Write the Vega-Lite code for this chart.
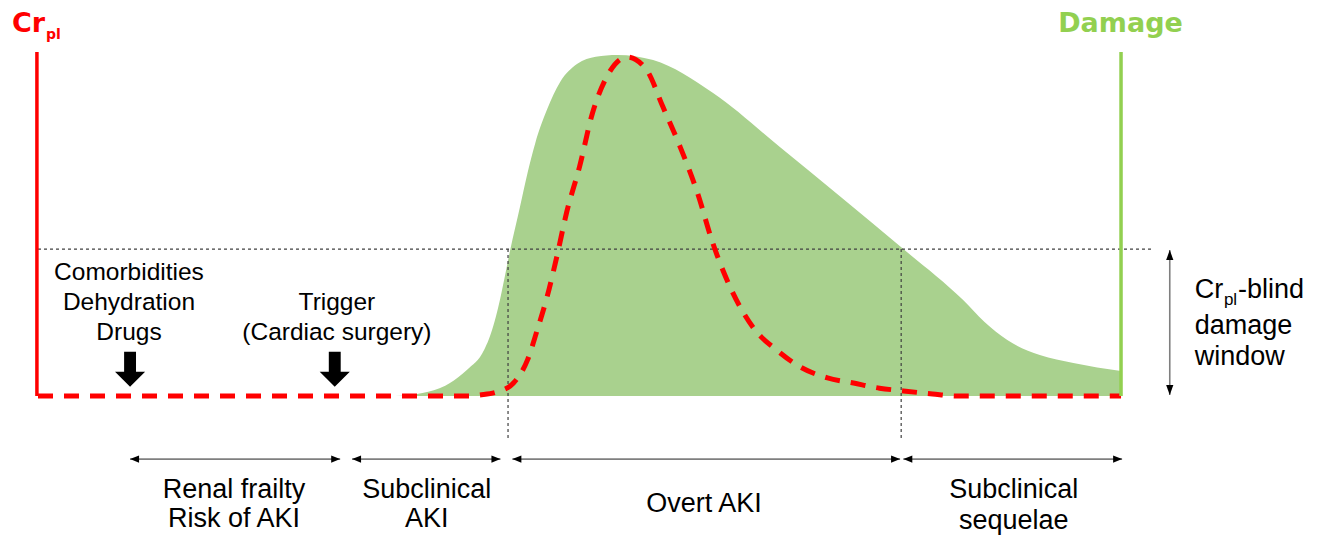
{
  "$schema": "https://vega.github.io/schema/vega-lite/v6.json",
  "width": 1319,
  "height": 535,
  "autosize": "none",
  "padding": 0,
  "background": "#ffffff",
  "config": {"view": {"stroke": null}},
  "datasets": {
    "damage": [
      {"t": 0, "v": 0}, {"t": 33.0, "v": 0}, {"t": 35.5, "v": 0.9}, {"t": 37.6, "v": 3.0},
      {"t": 39.2, "v": 6.5}, {"t": 40.0, "v": 8.8}, {"t": 40.8, "v": 11.4}, {"t": 41.2, "v": 13.6},
      {"t": 41.6, "v": 16.4}, {"t": 42.5, "v": 26.1},
      {"t": 43.1, "v": 35.0}, {"t": 43.6, "v": 42.8}, {"t": 44.5, "v": 55.4}, {"t": 45.2, "v": 65.4},
      {"t": 45.9, "v": 74.0}, {"t": 47.0, "v": 84.0}, {"t": 48.2, "v": 92.0}, {"t": 49.8, "v": 97.4},
      {"t": 51.5, "v": 99.5}, {"t": 53.5, "v": 100}, {"t": 56.8, "v": 98.5},
      {"t": 62.3, "v": 88.9}, {"t": 68.5, "v": 73.0}, {"t": 74.1, "v": 58.4}, {"t": 79.9, "v": 43.1},
      {"t": 85.4, "v": 28.2}, {"t": 87.4, "v": 21.7}, {"t": 89.5, "v": 16.4}, {"t": 92.5, "v": 12.0},
      {"t": 95.6, "v": 9.7}, {"t": 100, "v": 7.3}
    ],
    "creatinine": [
      {"t": 0, "v": 0}, {"t": 39.9, "v": 0}, {"t": 40.8, "v": 0.3}, {"t": 42.4, "v": 1.2},
      {"t": 43.9, "v": 3.8}, {"t": 45.2, "v": 10.6}, {"t": 46.1, "v": 19.4}, {"t": 47.0, "v": 29.0},
      {"t": 47.9, "v": 40.8}, {"t": 48.8, "v": 53.7}, {"t": 50.0, "v": 67.2}, {"t": 51.2, "v": 83.0},
      {"t": 52.5, "v": 93.5}, {"t": 54.4, "v": 99.4}, {"t": 56.2, "v": 95.6}, {"t": 57.7, "v": 84.8},
      {"t": 59.3, "v": 73.0}, {"t": 60.9, "v": 59.5}, {"t": 62.3, "v": 44.9}, {"t": 63.9, "v": 32.0},
      {"t": 66.2, "v": 19.4}, {"t": 68.2, "v": 13.5}, {"t": 70.4, "v": 8.5}, {"t": 72.9, "v": 5.3},
      {"t": 75.3, "v": 3.8}, {"t": 77.7, "v": 2.3}, {"t": 79.9, "v": 1.5}, {"t": 82.6, "v": 0.6},
      {"t": 84.9, "v": 0}, {"t": 100, "v": 0}
    ],
    "axes": [
      {"series": "Cr_pl", "t": -0.1, "v": 0, "v2": 100.9},
      {"series": "Damage", "t": 100, "v": 0, "v2": 100.9}
    ],
    "guides": [
      {"t": 0, "t2": 102.9, "v": 43.1, "v2": 43.1},
      {"t": 43.4, "t2": 43.4, "v": 43.1, "v2": -12.9},
      {"t": 79.7, "t2": 79.7, "v": 43.1, "v2": -12.9}
    ],
    "spans": [
      {"t": 8.5, "t2": 27.9, "v": -18.5, "v2": -18.5},
      {"t": 29.0, "t2": 42.7, "v": -18.5, "v2": -18.5},
      {"t": 43.8, "t2": 79.6, "v": -18.5, "v2": -18.5},
      {"t": 79.9, "t2": 100.1, "v": -18.5, "v2": -18.5},
      {"t": 104.5, "t2": 104.5, "v": 0.3, "v2": 42.8}
    ],
    "heads": [
      {"t": 8.5, "v": -18.5, "dir": "left"}, {"t": 27.9, "v": -18.5, "dir": "right"},
      {"t": 29.0, "v": -18.5, "dir": "left"}, {"t": 42.7, "v": -18.5, "dir": "right"},
      {"t": 43.8, "v": -18.5, "dir": "left"}, {"t": 79.6, "v": -18.5, "dir": "right"},
      {"t": 79.9, "v": -18.5, "dir": "left"}, {"t": 100.1, "v": -18.5, "dir": "right"},
      {"t": 104.5, "v": 42.8, "dir": "up"}, {"t": 104.5, "v": 0.3, "dir": "down"}
    ],
    "triggers": [
      {"t": 8.5, "v": 2.7}, {"t": 27.4, "v": 2.7}
    ],
    "titles": [
      {"series": "Cr_pl", "t": -2.4, "v": 106.7, "label": "Cr"},
      {"series": "Damage", "t": 94.2, "v": 106.7, "label": "Damage"}
    ],
    "titleSub": [
      {"series": "Cr_pl", "t": 0.74, "v": 104.7, "label": "pl"}
    ],
    "notes": [
      {"t": 8.4, "v": 34.0, "label": "Comorbidities"},
      {"t": 8.4, "v": 25.2, "label": "Dehydration"},
      {"t": 8.4, "v": 16.4, "label": "Drugs"},
      {"t": 27.6, "v": 25.2, "label": "Trigger"},
      {"t": 27.6, "v": 16.4, "label": "(Cardiac surgery)"}
    ],
    "phases": [
      {"t": 18.1, "v": -29.9, "label": "Renal frailty"},
      {"t": 18.1, "v": -38.4, "label": "Risk of AKI"},
      {"t": 35.9, "v": -29.9, "label": "Subclinical"},
      {"t": 35.9, "v": -38.4, "label": "AKI"},
      {"t": 61.5, "v": -34.0, "label": "Overt AKI"},
      {"t": 90.1, "v": -29.9, "label": "Subclinical"},
      {"t": 90.1, "v": -39.0, "label": "sequelae"}
    ],
    "blind": [
      {"t": 106.8, "v": 28.6, "label": "Cr"},
      {"t": 110.8, "v": 28.6, "label": "-blind"},
      {"t": 106.8, "v": 18.3, "label": "damage"},
      {"t": 106.8, "v": 9.1, "label": "window"}
    ],
    "blindSub": [
      {"t": 109.5, "v": 26.8, "label": "pl"}
    ]
  },
  "encoding": {
    "x": {"field": "t", "type": "quantitative", "scale": {"domain": [-3.509, 118.28], "nice": false, "zero": false}, "axis": null},
    "y": {"field": "v", "type": "quantitative", "scale": {"domain": [-40.76, 116.13], "nice": false, "zero": false}, "axis": null}
  },
  "layer": [
    {
      "data": {"name": "damage"},
      "mark": {"type": "area", "color": "#a9d18e", "interpolate": "monotone", "opacity": 1},
      "encoding": {"y2": {"datum": 0}}
    },
    {
      "data": {"name": "guides"},
      "mark": {"type": "rule", "color": "#404040", "strokeWidth": 1.2, "strokeDash": [3, 3]},
      "encoding": {"x2": {"field": "t2"}, "y2": {"field": "v2"}}
    },
    {
      "data": {"name": "creatinine"},
      "mark": {"type": "line", "color": "#ff0000", "strokeWidth": 5, "strokeDash": [15, 11], "interpolate": "monotone", "strokeCap": "butt"},
      "encoding": {}
    },
    {
      "data": {"name": "axes"},
      "mark": {"type": "rule", "strokeWidth": 3.5},
      "encoding": {
        "y2": {"field": "v2"},
        "color": {"field": "series", "type": "nominal", "scale": {"domain": ["Cr_pl", "Damage"], "range": ["#ff0000", "#92d050"]}, "legend": null}
      }
    },
    {
      "data": {"name": "spans"},
      "mark": {"type": "rule", "color": "#7f7f7f", "strokeWidth": 1.6},
      "encoding": {"x2": {"field": "t2"}, "y2": {"field": "v2"}}
    },
    {
      "data": {"name": "heads"},
      "mark": {"type": "point", "filled": true, "color": "#000000", "opacity": 1, "size": 324, "strokeWidth": 0},
      "encoding": {
        "shape": {"field": "dir", "type": "nominal", "scale": {"domain": ["left", "right", "up", "down"], "range": ["M0,0L1,-0.4L1,0.4Z", "M0,0L-1,-0.4L-1,0.4Z", "M0,0L-0.4,1.1L0.4,1.1Z", "M0,0L-0.4,-1.1L0.4,-1.1Z"]}, "legend": null}
      }
    },
    {
      "data": {"name": "triggers"},
      "mark": {"type": "point", "filled": true, "color": "#000000", "opacity": 1, "size": 1225, "strokeWidth": 0, "shape": "M-0.34,-2L0.34,-2L0.34,-0.86L0.86,-0.86L0,0L-0.86,-0.86L-0.34,-0.86Z"},
      "encoding": {}
    },
    {
      "data": {"name": "titles"},
      "mark": {"type": "text", "font": "DejaVu Sans", "fontWeight": "bold", "fontSize": 27, "align": "left", "baseline": "alphabetic"},
      "encoding": {"text": {"field": "label"}, "color": {"field": "series", "type": "nominal", "legend": null}}
    },
    {
      "data": {"name": "titleSub"},
      "mark": {"type": "text", "font": "DejaVu Sans", "fontWeight": "bold", "fontSize": 14, "align": "left", "baseline": "alphabetic"},
      "encoding": {"text": {"field": "label"}, "color": {"field": "series", "type": "nominal", "legend": null}}
    },
    {
      "data": {"name": "notes"},
      "mark": {"type": "text", "font": "Liberation Sans", "fontSize": 24.5, "align": "center", "baseline": "alphabetic", "color": "#000000"},
      "encoding": {"text": {"field": "label"}}
    },
    {
      "data": {"name": "phases"},
      "mark": {"type": "text", "font": "Liberation Sans", "fontSize": 27, "align": "center", "baseline": "alphabetic", "color": "#000000"},
      "encoding": {"text": {"field": "label"}}
    },
    {
      "data": {"name": "blind"},
      "mark": {"type": "text", "font": "Liberation Sans", "fontSize": 27, "align": "left", "baseline": "alphabetic", "color": "#000000"},
      "encoding": {"text": {"field": "label"}}
    },
    {
      "data": {"name": "blindSub"},
      "mark": {"type": "text", "font": "Liberation Sans", "fontSize": 17, "align": "left", "baseline": "alphabetic", "color": "#000000"},
      "encoding": {"text": {"field": "label"}}
    }
  ]
}
